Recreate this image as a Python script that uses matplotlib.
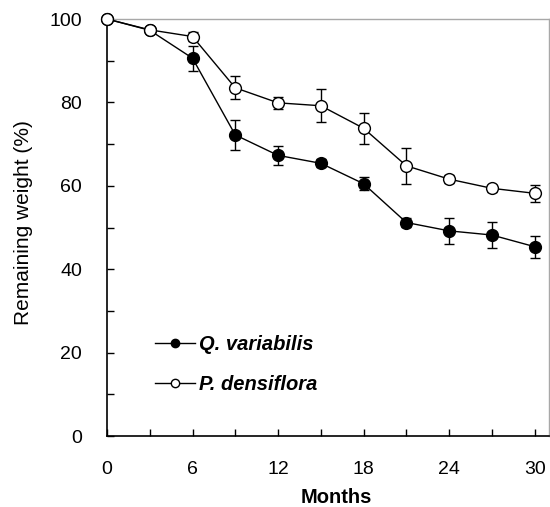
import matplotlib
matplotlib.use("Agg")
import matplotlib.pyplot as plt
from matplotlib.lines import Line2D
from matplotlib.ticker import MultipleLocator

# data
months = [0, 3, 6, 9, 12, 15, 18, 21, 24, 27, 30]
q_var = [100, 97.3, 90.6, 72.2, 67.3, 65.4, 60.5, 51.2, 49.2, 48.2, 45.4]
q_err = [0, 0, 3.0, 3.6, 2.3, 1.0, 1.5, 1.0, 3.2, 3.2, 2.6]
p_den = [100, 97.4, 95.8, 83.5, 79.9, 79.2, 73.8, 64.8, 61.6, 59.4, 58.2]
p_err = [0, 0, 1.0, 2.8, 1.5, 4.0, 3.7, 4.3, 1.0, 0.8, 2.0]
labels = ["Q. variabilis", "P. densiflora"]

plt.rcParams["font.family"] = ["Liberation Sans", "DejaVu Sans"]

fig = plt.figure(figsize=(5.5, 5.07), dpi=100)
ax = fig.add_axes([0.1945, 0.140, 0.8035, 0.8225])

err_kw = dict(capsize=3.5, elinewidth=1.0, capthick=1.0, ecolor="black",
              lw=1.0, color="black", markersize=8.5, markeredgewidth=1.0,
              clip_on=False)
ax.errorbar(months, q_var, yerr=q_err, marker="o", mfc="black", mec="black", zorder=3, **err_kw)
ax.errorbar(months, p_den, yerr=p_err, marker="o", mfc="white", mec="black", zorder=4, **err_kw)

ax.set_xlim(0, 31)
ax.set_ylim(0, 100)
ax.xaxis.set_major_locator(MultipleLocator(6))
ax.xaxis.set_minor_locator(MultipleLocator(3))
ax.yaxis.set_major_locator(MultipleLocator(20))
ax.yaxis.set_minor_locator(MultipleLocator(10))
ax.tick_params(which="both", direction="in", length=5, width=1, top=False, right=False)
ax.tick_params(which="major", labelsize=14, pad=18)

for side in ["top", "right"]:
    ax.spines[side].set_color("#a8a8a8")
    ax.spines[side].set_linewidth(1.0)
for side in ["left", "bottom"]:
    ax.spines[side].set_linewidth(1.2)

# label centres measured on the reference (axes fraction)
ax.set_xlabel("Months", fontsize=14.5, fontweight="bold", va="center")
ax.xaxis.set_label_coords(0.518, -0.148)
ax.set_ylabel("Remaining weight (%)", fontsize=15, va="center")
ax.yaxis.set_label_coords(-0.188, 0.511)

handles = [
    Line2D([], [], color="black", lw=1.0, marker="o", markersize=6, mfc="black", mec="black"),
    Line2D([], [], color="black", lw=1.0, marker="o", markersize=6, mfc="white", mec="black"),
]
ax.legend(handles, labels, loc="upper left", bbox_to_anchor=(0.068, 0.285), frameon=False,
          handlelength=2.0, handletextpad=0.2, labelspacing=1.05,
          prop={"style": "italic", "weight": "bold", "size": 14.5})

fig.savefig("out.png", dpi=100)
